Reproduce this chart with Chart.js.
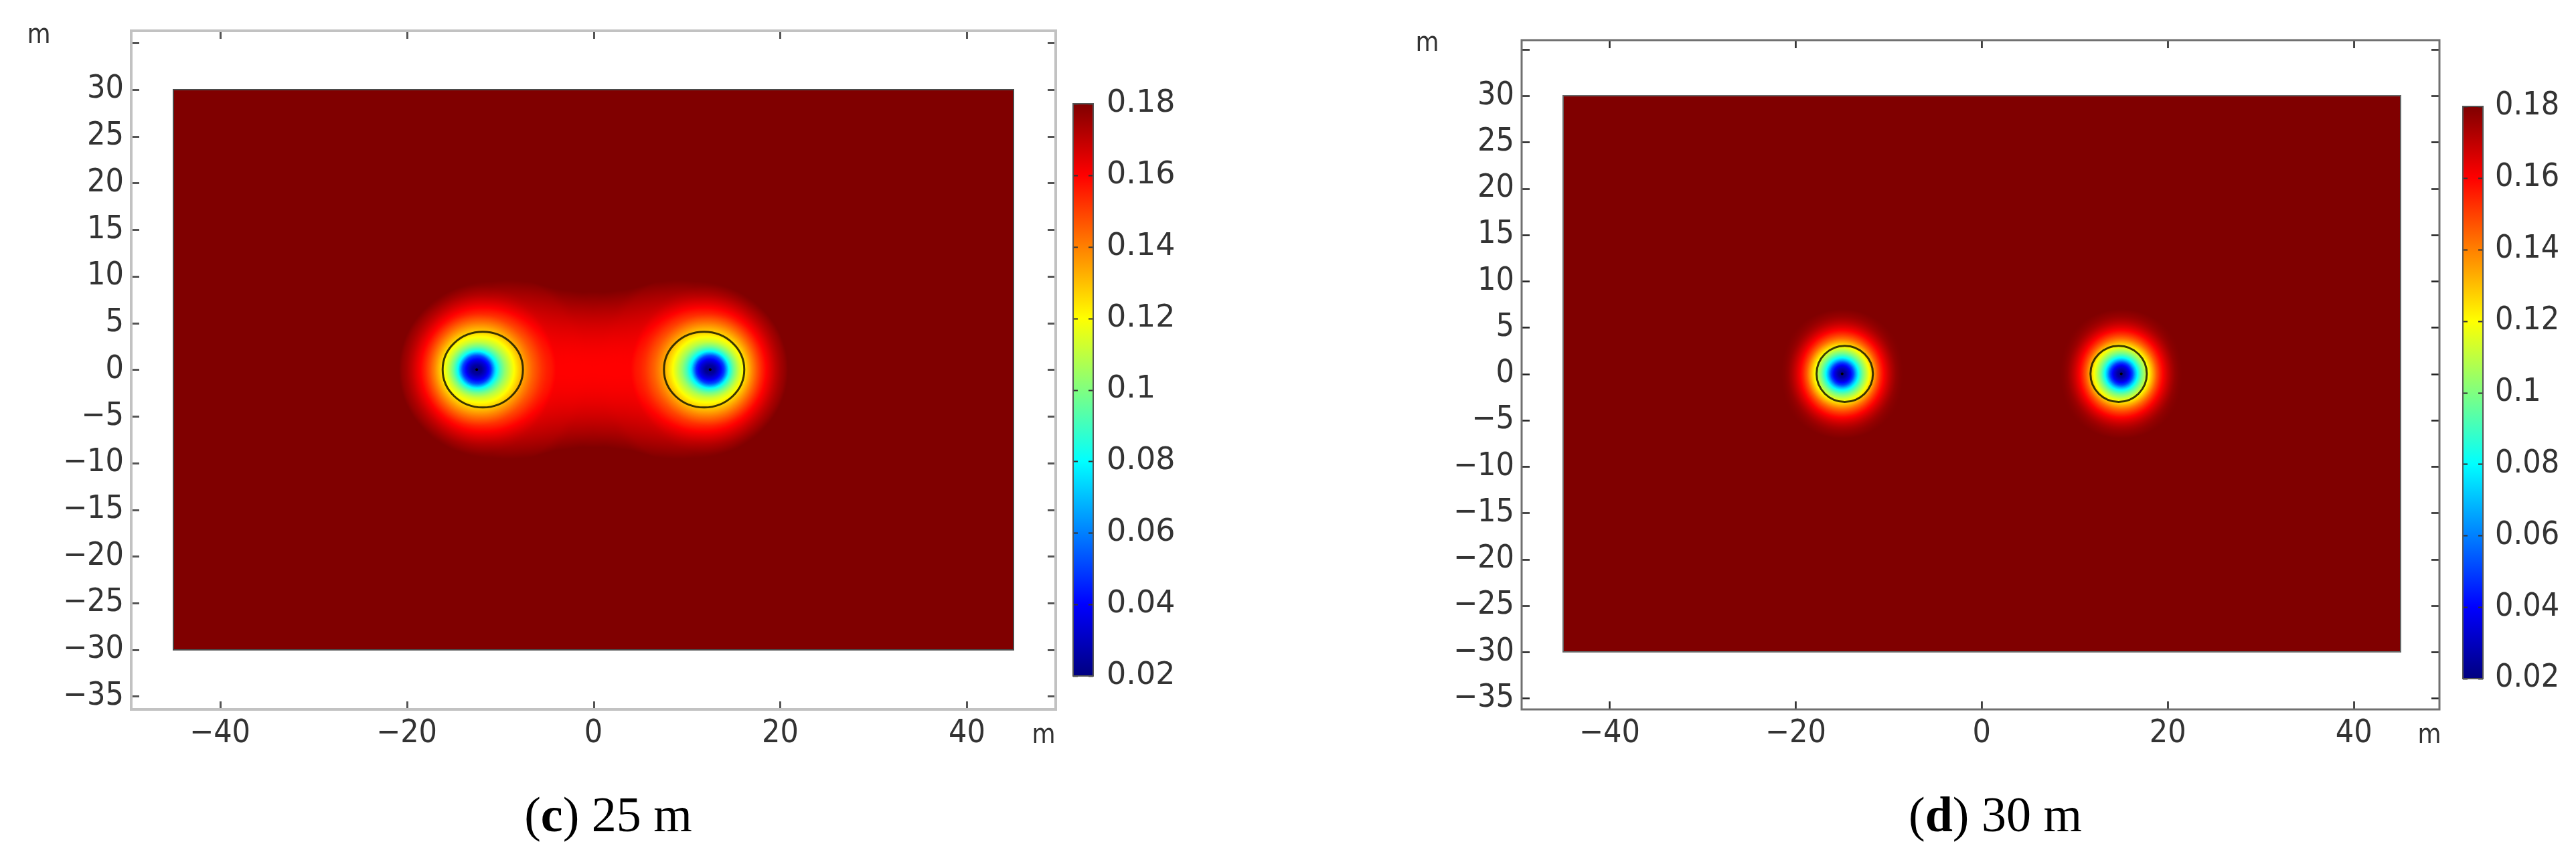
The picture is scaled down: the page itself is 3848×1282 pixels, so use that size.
<!DOCTYPE html>
<html lang="en">
<head>
<meta charset="UTF-8">
<title>(c) 25 m / (d) 30 m</title>
<script src="https://cdn.jsdelivr.net/npm/chart.js"></script>
<style>
  html, body { margin: 0; padding: 0; background: #fff; }
  body { width: 3848px; height: 1282px; position: relative; overflow: hidden; }
  canvas { position: absolute; top: 0; }
  #chartC { left: 0; }
  #chartD { left: 1924px; }
</style>
</head>
<body>
<canvas id="chartC" width="1924" height="1282"></canvas>
<canvas id="chartD" width="1924" height="1282"></canvas>
<script>
// axis ticks (m) and colour scale
const xTicks = [-40, -20, 0, 20, 40];
const yTicks = [-35, -30, -25, -20, -15, -10, -5, 0, 5, 10, 15, 20, 25, 30, 35];
const yLabels = [-35, -30, -25, -20, -15, -10, -5, 0, 5, 10, 15, 20, 25, 30];
const colorTicks = [0.02, 0.04, 0.06, 0.08, 0.1, 0.12, 0.14, 0.16, 0.18];
const colorMin = 0.02;
const colorMax = 0.18;

// model domain (m)
const domainX = [-45, 45];
const domainY = [-30, 30];

// (c) 25 m : wells, circle outline, drawdown below background level vs distance
const wellsC = [-12.5, 12.5];
const circleXC = [-11.85, 11.85];
const circleRC = [4.3, 4.05];
const baseC = 0.224;
const radiusC_H = [0, 0.5, 1, 1.5, 2, 2.5, 3, 3.5, 4, 4.5, 5, 5.5, 6, 6.5, 7, 7.5, 8, 8.5, 10, 12.5, 15, 16.5, 18, 22, 25, 30, 35];
const drawC_H   = [0.1975, 0.194, 0.1834, 0.1689, 0.1393, 0.1228, 0.1102, 0.1007, 0.0911, 0.0826, 0.075, 0.0682, 0.0624, 0.0576, 0.0528, 0.049, 0.0462, 0.042, 0.0383, 0.032, 0.0258, 0.022, 0.0187, 0.0112, 0.0065, 0.002, 0];
const radiusC_V = [0, 0.5, 1, 1.5, 2, 2.5, 3, 3.5, 4, 5, 6, 7, 8, 9, 10, 11, 12, 14, 16, 20, 25, 30];
const drawC_V   = [0.196, 0.192, 0.181, 0.166, 0.136, 0.119, 0.106, 0.098, 0.091, 0.077, 0.064, 0.055, 0.047, 0.041, 0.037, 0.033, 0.026, 0.017, 0.011, 0.004, 0.001, 0];

// (d) 30 m
const wellsD = [-15, 15];
const circleXD = [-14.72, 14.72];
const circleRD = [3.03, 3.02];
const baseD = 0.18;
const radiusD_H = [0, 0.4, 0.8, 1.2, 1.5, 1.8, 2.2, 2.6, 3.0, 3.4, 3.8, 4.2, 4.6, 5.0, 5.4, 5.8, 6.2, 6.6];
const drawD_H   = [0.16, 0.155, 0.145, 0.13, 0.112, 0.097, 0.082, 0.07, 0.058, 0.046, 0.034, 0.025, 0.018, 0.012, 0.007, 0.003, 0.001, 0];
const radiusD_V = [0, 0.4, 0.8, 1.2, 1.5, 1.8, 2.2, 2.6, 3.0, 3.4, 3.8, 4.2, 4.6, 5.0, 5.4, 5.8, 6.2, 6.6, 7.0];
const drawD_V   = [0.16, 0.155, 0.145, 0.13, 0.112, 0.097, 0.082, 0.07, 0.058, 0.047, 0.037, 0.029, 0.022, 0.016, 0.011, 0.007, 0.004, 0.002, 0];

const STEP = 0.02, NSTEP = 3500;

function profile(radii, draws) {
  const out = new Float32Array(NSTEP + 1);
  let k = 0;
  const last = radii.length - 1;
  for (let i = 0; i <= NSTEP; i++) {
    const r = i * STEP;
    if (r >= radii[last]) { out[i] = draws[last]; continue; }
    while (k < last - 1 && r > radii[k + 1]) k++;
    const f = (r - radii[k]) / (radii[k + 1] - radii[k]);
    out[i] = draws[k] + f * (draws[k + 1] - draws[k]);
  }
  return out;
}

function jet(t) {
  const c = v => Math.max(0, Math.min(1, v));
  return [c(1.5 - Math.abs(4 * t - 3)), c(1.5 - Math.abs(4 * t - 2)), c(1.5 - Math.abs(4 * t - 1))]
    .map(v => Math.round(v * 255));
}

const LUT = [];
for (let i = 0; i < 1024; i++) LUT.push(jet(i / 1023));

const fmtAxis = v => (v < 0 ? '\u2212' + Math.abs(v) : String(v));
const noPad = s => { s.paddingTop = 0; s.paddingBottom = 0; s.paddingLeft = 0; s.paddingRight = 0; };

function fieldPlugin(p) {
  const tabH = profile(p.rH, p.sH);
  const tabV = profile(p.rV, p.sV);
  return {
    id: 'field',
    beforeDatasetsDraw(chart) {
      const ctx = chart.ctx;
      const xs = chart.scales.x, ys = chart.scales.y;
      const px0 = Math.round(xs.getPixelForValue(domainX[0]));
      const px1 = Math.round(xs.getPixelForValue(domainX[1]));
      const py0 = Math.round(ys.getPixelForValue(domainY[1]));
      const py1 = Math.round(ys.getPixelForValue(domainY[0]));
      const w = px1 - px0, h = py1 - py0;
      const img = ctx.createImageData(w, h);
      const d = img.data;
      const colX = new Float32Array(w), rowY = new Float32Array(h);
      for (let i = 0; i < w; i++) colX[i] = xs.getValueForPixel(px0 + i + 0.5);
      for (let j = 0; j < h; j++) rowY[j] = ys.getValueForPixel(py0 + j + 0.5);
      for (let j = 0; j < h; j++) {
        const y = rowY[j];
        for (let i = 0; i < w; i++) {
          const x = colX[i];
          let s = 0;
          for (let k = 0; k < p.wells.length; k++) {
            const dx = x - p.wells[k];
            const r2 = dx * dx + y * y;
            const idx = Math.min(NSTEP, Math.round(Math.sqrt(r2) / STEP));
            const c2 = r2 > 0 ? dx * dx / r2 : 1;
            s += c2 * tabH[idx] + (1 - c2) * tabV[idx];
          }
          let t = (p.base - s - colorMin) / (colorMax - colorMin);
          t = Math.max(0, Math.min(1, t));
          const col = LUT[Math.round(t * 1023)];
          const o = (j * w + i) * 4;
          d[o] = col[0]; d[o + 1] = col[1]; d[o + 2] = col[2]; d[o + 3] = 255;
        }
      }
      ctx.putImageData(img, px0, py0);

      ctx.save();
      ctx.strokeStyle = p.domainLine;
      ctx.lineWidth = 2;
      ctx.strokeRect(px0, py0, w, h);
      ctx.strokeStyle = 'rgba(25,25,0,0.85)';
      ctx.lineWidth = 3;
      p.circleX.forEach(cxv => {
        const cx = xs.getPixelForValue(cxv), cy = ys.getPixelForValue(0);
        const rx = Math.abs(xs.getPixelForValue(cxv + p.circleR[0]) - cx);
        const ry = Math.abs(ys.getPixelForValue(p.circleR[1]) - cy);
        ctx.beginPath();
        ctx.ellipse(cx, cy, rx, ry, 0, 0, Math.PI * 2);
        ctx.stroke();
      });
      ctx.restore();
    },
    afterDraw(chart) {
      const ctx = chart.ctx;
      const a = chart.chartArea;
      const xs = chart.scales.x, ys = chart.scales.y, cb = chart.scales.cb;
      ctx.save();
      // axes box with inward ticks
      ctx.strokeStyle = p.tickColor;
      ctx.lineWidth = p.tickWidth;
      ctx.beginPath();
      xTicks.forEach(v => {
        const x = Math.round(xs.getPixelForValue(v)) + 0.5;
        ctx.moveTo(x, a.bottom); ctx.lineTo(x, a.bottom - 12);
        ctx.moveTo(x, a.top); ctx.lineTo(x, a.top + 12);
      });
      yTicks.forEach(v => {
        const y = Math.round(ys.getPixelForValue(v)) + 0.5;
        ctx.moveTo(a.left, y); ctx.lineTo(a.left + 12, y);
        ctx.moveTo(a.right, y); ctx.lineTo(a.right - 12, y);
      });
      ctx.stroke();
      ctx.strokeStyle = p.boxColor;
      ctx.lineWidth = p.boxWidth;
      ctx.strokeRect(a.left, a.top, a.right - a.left, a.bottom - a.top);

      // colour bar
      const top = cb.getPixelForValue(colorMax), bot = cb.getPixelForValue(colorMin);
      const bx = a.right + p.cbGap, bw = 30;
      const g = ctx.createLinearGradient(0, bot, 0, top);
      for (let i = 0; i <= 32; i++) {
        const c = jet(i / 32);
        g.addColorStop(i / 32, 'rgb(' + c.join(',') + ')');
      }
      ctx.fillStyle = g;
      ctx.fillRect(bx, top, bw, bot - top);
      ctx.strokeStyle = '#333';
      ctx.lineWidth = 2;
      ctx.beginPath();
      colorTicks.forEach(v => {
        const y = Math.round(cb.getPixelForValue(v)) + 0.5;
        ctx.moveTo(bx, y); ctx.lineTo(bx + 7, y);
        ctx.moveTo(bx + bw, y); ctx.lineTo(bx + bw - 7, y);
      });
      ctx.stroke();
      ctx.strokeStyle = '#555';
      ctx.strokeRect(bx, top, bw, bot - top);

      // unit labels
      ctx.fillStyle = '#333';
      ctx.font = '40px "DejaVu Sans Condensed", "DejaVu Sans", sans-serif';
      ctx.textAlign = 'center';
      ctx.textBaseline = 'middle';
      ctx.fillText('m', p.unitTop[0], p.unitTop[1]);
      ctx.fillText('m', a.right + p.unitBottom[0], p.unitBottom[1]);

      // caption
      const fr = '74px "Liberation Serif", "Times New Roman", serif';
      const fb = 'bold ' + fr;
      const parts = [['(', fr], [p.caption[0], fb], [') ' + p.caption[1], fr]];
      let total = 0;
      parts.forEach(q => { ctx.font = q[1]; total += ctx.measureText(q[0]).width; });
      let x = (a.left + a.right) / 2 + 22 - total / 2;
      ctx.fillStyle = '#000';
      ctx.textAlign = 'left';
      ctx.textBaseline = 'alphabetic';
      parts.forEach(q => { ctx.font = q[1]; ctx.fillText(q[0], x, 1242); x += ctx.measureText(q[0]).width; });
      ctx.restore();
    }
  };
}

function makePanel(id, p) {
  const areaTop = p.top, areaBottom = 1282 - 222;
  const pxPer = (p.cbBottom - p.cbTop) / (colorMax - colorMin);
  const cbMin = colorMin - (areaBottom - p.cbBottom) / pxPer;
  const cbMax = colorMax + (p.cbTop - areaTop) / pxPer;
  const tickFont = { family: '"DejaVu Sans Condensed", "DejaVu Sans", sans-serif', size: 48 };
  return new Chart(document.getElementById(id).getContext('2d'), {
    type: 'scatter',
    data: {
      datasets: [{
        label: 'wells',
        data: p.wells.map(x => ({ x: x, y: 0 })),
        pointRadius: 2,
        pointBorderWidth: 0,
        pointBackgroundColor: '#000'
      }]
    },
    options: {
      responsive: false,
      animation: false,
      events: [],
      layout: { padding: { top: p.top, left: 0, right: 0, bottom: 0 } },
      plugins: { legend: { display: false }, tooltip: { enabled: false } },
      scales: {
        x: {
          type: 'linear', min: p.xRange[0], max: p.xRange[1],
          afterBuildTicks: s => { s.ticks = xTicks.map(v => ({ value: v })); },
          afterFit: s => { s.height = 222; noPad(s); },
          grid: { display: false, drawTicks: false },
          border: { display: false },
          ticks: { font: tickFont, color: '#333', padding: 8, maxRotation: 0, autoSkip: false, callback: fmtAxis }
        },
        y: {
          type: 'linear', min: p.yRange[0], max: p.yRange[1],
          afterBuildTicks: s => { s.ticks = yLabels.map(v => ({ value: v })); },
          afterFit: s => { s.width = p.left; noPad(s); },
          grid: { display: false, drawTicks: false },
          border: { display: false },
          ticks: { font: tickFont, color: '#333', padding: 11, autoSkip: false, callback: fmtAxis }
        },
        cb: {
          type: 'linear', axis: 'y', position: 'right', min: cbMin, max: cbMax,
          afterBuildTicks: s => { s.ticks = colorTicks.map(v => ({ value: v })); },
          afterFit: s => { s.width = p.rightW; noPad(s); },
          grid: { display: false, drawTicks: false },
          border: { display: false },
          ticks: { font: p.cbFont, color: '#333', padding: p.cbPad, autoSkip: false, callback: v => String(+v.toFixed(2)) }
        }
      }
    },
    plugins: [fieldPlugin(p)]
  });
}

makePanel('chartC', {
  wells: wellsC, circleX: circleXC, circleR: circleRC, base: baseC,
  rH: radiusC_H, sH: drawC_H, rV: radiusC_V, sV: drawC_V,
  xRange: [-49.5, 49.5], yRange: [-36.4, 36.3],
  top: 46, left: 196, rightW: 347,
  cbTop: 155, cbBottom: 1010, cbGap: 26, cbPad: 76,
  cbFont: { family: '"DejaVu Sans", sans-serif', size: 46 },
  boxColor: '#c2c2c2', boxWidth: 4, tickColor: '#555', tickWidth: 3,
  domainLine: '#4a4a4a',
  unitTop: [58, 54], unitBottom: [-18, 1100],
  caption: ['c', '25 m']
});

makePanel('chartD', {
  wells: wellsD, circleX: circleXD, circleR: circleRD, base: baseD,
  rH: radiusD_H, sH: drawD_H, rV: radiusD_V, sV: drawD_V,
  xRange: [-49.45, 49.2], yRange: [-36.2, 36.0],
  top: 60, left: 349, rightW: 204,
  cbTop: 159, cbBottom: 1014, cbGap: 35, cbPad: 83,
  cbFont: { family: '"DejaVu Sans Condensed", "DejaVu Sans", sans-serif', size: 48 },
  boxColor: '#707070', boxWidth: 3, tickColor: '#222', tickWidth: 2.5,
  domainLine: '#666',
  unitTop: [208, 66], unitBottom: [-15, 1100],
  caption: ['d', '30 m']
});
</script>
</body>
</html>
